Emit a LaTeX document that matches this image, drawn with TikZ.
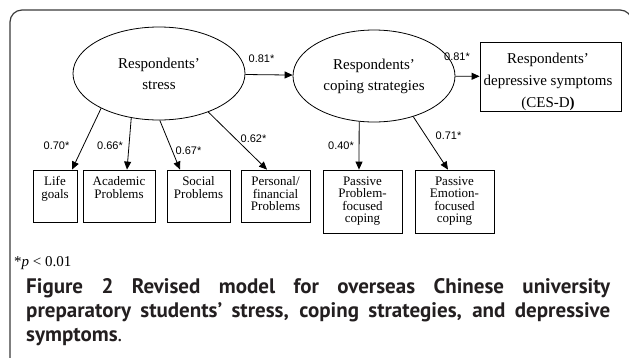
\documentclass[tikz,border=0pt]{standalone}
\usepackage{fontspec}
\setmainfont{Liberation Serif}
\setsansfont{Liberation Sans}
\newfontfamily\capfont{PT Sans}
\usetikzlibrary{shapes.geometric,arrows.meta}
\definecolor{capgray}{HTML}{231F20}
\definecolor{framegray}{HTML}{3A3A3A}

\begin{document}
\begin{tikzpicture}[x=1pt,y=-1pt,
        latent/.style={shape=ellipse,draw=black,line width=0.8pt,inner sep=0pt,align=center,font=\fontsize{15}{21}\selectfont},
        obs/.style={shape=rectangle,draw=black,line width=0.8pt,inner sep=0pt},
        obstext/.style={anchor=north,align=center,inner xsep=0pt,inner ysep=7pt,font=\fontsize{13}{12.4}\selectfont},
        coef/.style={font=\sffamily\fontsize{11}{12}\selectfont,inner sep=0pt},
        link/.style={-{Triangle[length=8pt,width=7pt]},line width=0.8pt},
        captext/.style={anchor=base west,inner sep=0pt,text=capgray,font=\capfont\fontsize{21}{24}\selectfont}
    ]
        \useasboundingbox (0,0) rectangle (629,357);
        \draw[framegray,line width=1.2pt,rounded corners=12pt] (10,10) rectangle (632,375);

        % latent variables and outcome
        \node[latent,minimum width=172pt,minimum height=93pt] (S) at (159,73.5) {Respondents’\\stress};
        \node[latent,minimum width=162pt,minimum height=92pt] (C) at (374,76) {Respondents’\\coping strategies};
        \node[obs,minimum width=141pt,minimum height=69pt] (D) at (550.5,76.5) {};
        \node[align=center,inner sep=0pt,font=\fontsize{15}{22}\selectfont] (Dt) at (548,82) {Respondents’\\depressive symptoms\\(CES-D\textbf{)}};

        % indicators
        \node[obs,minimum width=44pt,minimum height=52pt,label={[obstext]north:{Life\\goals}}] (L1) at (55,196) {};
        \node[obs,minimum width=72pt,minimum height=52pt,label={[obstext]north:{Academic\\Problems}}] (L2) at (119,196) {};
        \node[obs,minimum width=63pt,minimum height=52pt,label={[obstext]north:{Social\\Problems}}] (L3) at (198.5,196) {};
        \node[obs,minimum width=69pt,minimum height=52pt,label={[obstext]north:{Personal/\\financial\\Problems}}] (L4) at (275.5,196) {};
        \node[obs,minimum width=79pt,minimum height=63pt,label={[obstext]north:{Passive\\Problem-\\focused\\coping}}] (P1) at (362.5,201.5) {};
        \node[obs,minimum width=79pt,minimum height=63pt,label={[obstext]north:{Passive\\Emotion-\\focused\\coping}}] (P2) at (454.5,201.5) {};

        % paths
        \path [link](S) edge (C);
        \path [link](C) edge (D);
        \path [link](S.211) edge ([xshift=17pt]L1.north);
        \path [link](S.238) edge ([xshift=8pt]L2.north);
        \path [link](S.271) edge ([xshift=-18.5pt]L3.north);
        \path [link](S.322) edge ([xshift=-8.5pt]L4.north);
        \path [link](C.252) edge ([xshift=-3.5pt]P1.north);
        \path [link](C.314) edge ([xshift=-6.5pt]P2.north);

        % loadings
        \node[coef] (wSC) at (261.5,59) {0.81*};
        \node[coef] (wCD) at (457,57) {0.81*};
        \node[coef] (w1) at (56.5,146) {0.70*};
        \node[coef] (w2) at (110,146) {0.66*};
        \node[coef] (w3) at (188.5,151) {0.67*};
        \node[coef] (w4) at (253.5,139) {0.62*};
        \node[coef] (w5) at (341,146) {0.40*};
        \node[coef] (w6) at (448.5,136) {0.71*};

        \node[anchor=base west,inner sep=0pt,font=\fontsize{15}{16}\selectfont] (note) at (14,266) {*\textit{p} < 0.01};

        % caption
        \node[captext] (cap1) at (26,293) {\makebox[584pt][s]{\bfseries Figure 2 Revised model for overseas Chinese university}};
        \node[captext] (cap2) at (26,317) {\makebox[584pt][s]{\bfseries preparatory students’ stress, coping strategies, and depressive}};
        \node[captext] (cap3) at (26,341) {\textbf{symptoms}.};
    \end{tikzpicture}
\end{document}
